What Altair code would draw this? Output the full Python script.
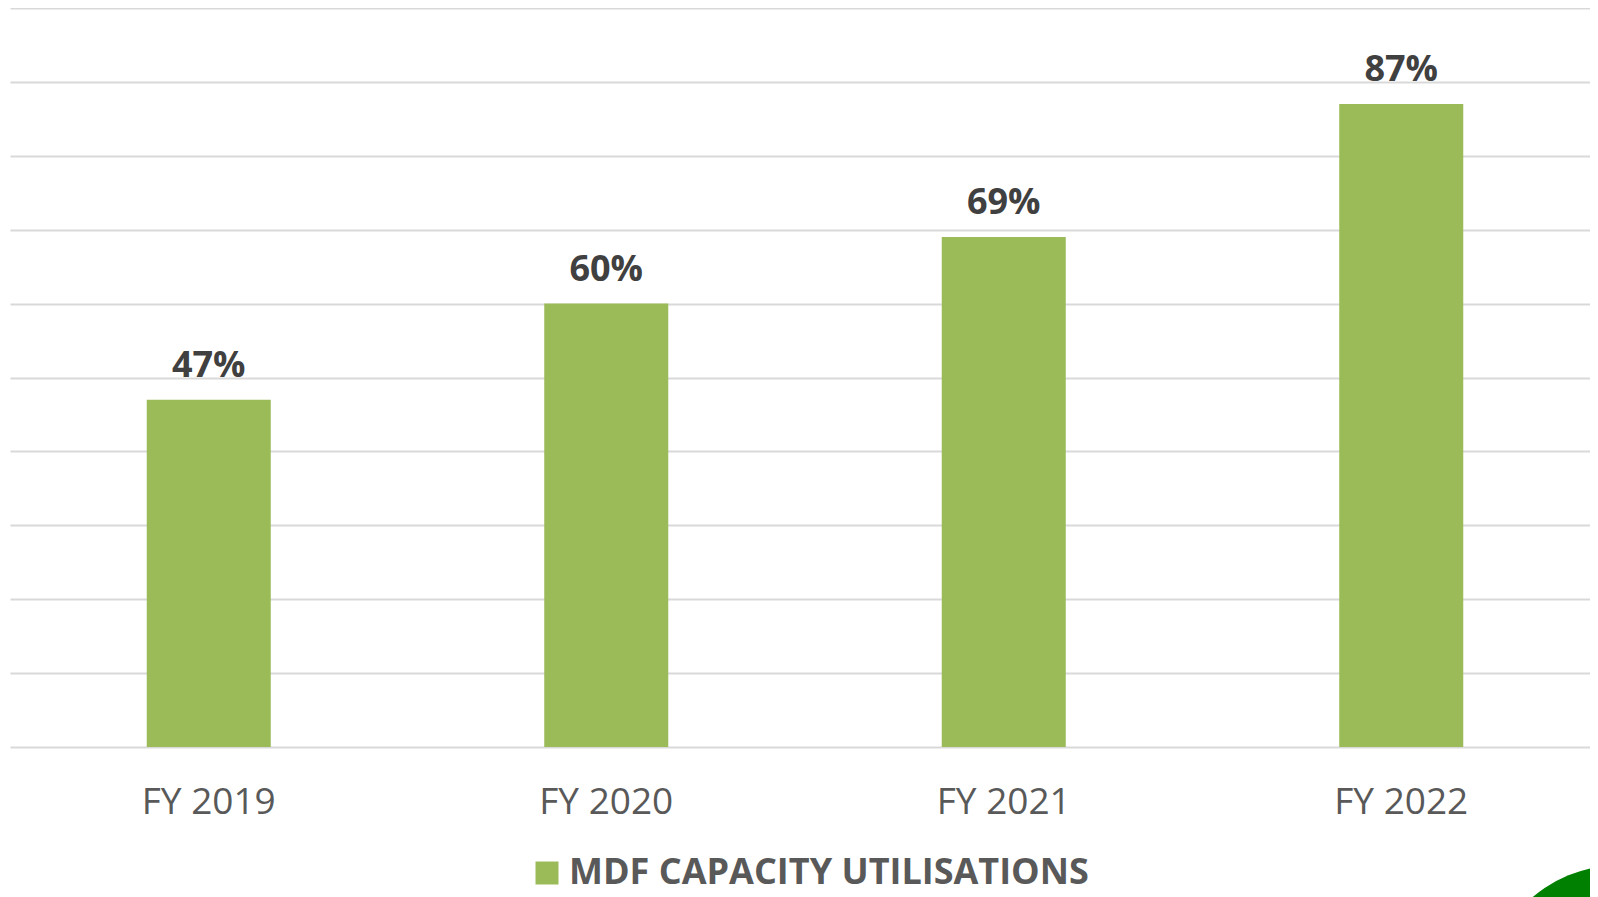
import altair as alt
import pandas as pd

years = ["FY 2019", "FY 2020", "FY 2021", "FY 2022"]
values = [47, 60, 69, 87]
labels = ["47%", "60%", "69%", "87%"]
series_name = "MDF CAPACITY UTILISATIONS"
grid_values = [0, 10, 20, 30, 40, 50, 60, 70, 80, 90, 100]

df = pd.DataFrame({
    "year": years,
    "value": values,
    "label": labels,
    "series": [series_name] * len(years),
})

x = alt.X(
    "year:N", sort=years, title=None,
    scale=alt.Scale(range=[0, 1590], paddingInner=0.688, paddingOuter=0.344),
    axis=alt.Axis(labelAngle=0, labelFont="Open Sans", labelFontSize=37,
                  labelColor="#595959", ticks=False, domain=False,
                  labelPadding=66, labelBaseline="alphabetic", grid=False),
)
y = alt.Y(
    "value:Q", title=None,
    scale=alt.Scale(domain=[0, 100], nice=False),
    axis=alt.Axis(values=grid_values, labels=False, ticks=False, domain=False,
                  grid=True, gridColor="#D9D9D9", gridWidth=2),
)

base = alt.Chart(df)

bars = base.mark_bar().encode(
    x=x, y=y,
    color=alt.Color(
        "series:N",
        scale=alt.Scale(domain=[series_name], range=["#9BBB59"]),
        legend=alt.Legend(
            title=None, orient="none", legendX=519, legendY=847,
            symbolType="square", symbolSize=529, symbolStrokeWidth=0,
            labelFont="Open Sans", labelFontSize=36, labelFontWeight="bold",
            labelColor="#595959", labelOffset=4, padding=0, labelLimit=1000,
        ),
    ),
)

text = base.mark_text(
    font="Open Sans", fontSize=36, fontWeight="bold", color="#404040",
    baseline="alphabetic", dy=-23,
).encode(x=alt.X("year:N", sort=years), y="value:Q", text="label:N")

deco = alt.Chart(pd.DataFrame({"d": [0]})).mark_point(
    shape="circle", filled=True, color="#008000", opacity=1, size=72900, clip=False,
).encode(x=alt.value(1610), y=alt.value(992))

chart = alt.layer(bars, text, deco).properties(
    width=1580, height=739,
    autosize=alt.AutoSizeParams(type="none"),
    padding={"left": 2, "top": 0, "right": 0, "bottom": 150},
    background="white",
).configure_view(stroke=None)

chart.save("out.html", embed_options={"renderer": "svg", "actions": False})
